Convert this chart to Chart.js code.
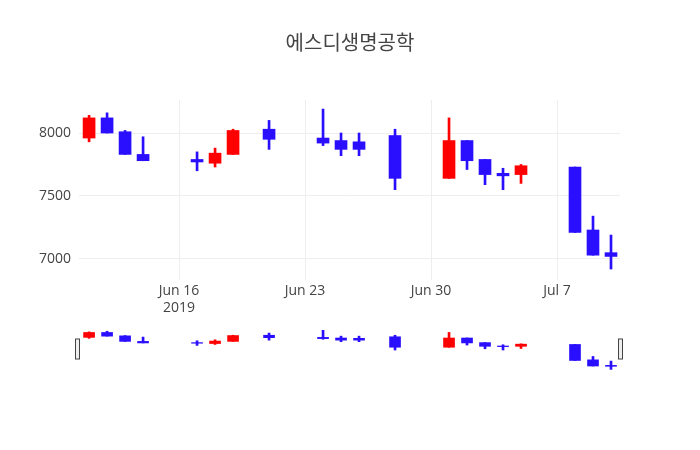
<!DOCTYPE html>
<html><head><meta charset="utf-8">
<script src="https://cdn.jsdelivr.net/npm/chart.js@4/dist/chart.umd.min.js"></script>
<style>body{margin:0;background:#fff}canvas{position:absolute;left:0;top:0}</style>
</head><body>
<canvas id="main" width="700" height="450"></canvas>
<canvas id="slider" width="700" height="450"></canvas>
<script>
// day offsets relative to 2019-06-16
const days  = [-5,-4,-3,-2,1,2,3,5,8,9,10,12,15,16,17,18,19,22,23,24];
const opens = [7960,8120,8010,7830,7790,7760,7830,8030,7960,7940,7930,7980,7640,7940,7790,7680,7670,7730,7230,7050];
const highs = [8140,8160,8020,7970,7850,7880,8030,8100,8190,8000,8000,8030,8120,7940,7790,7720,7750,7730,7340,7190];
const lows  = [7930,8000,7830,7780,7700,7730,7830,7870,7900,7820,7820,7550,7640,7710,7590,7550,7600,7210,7030,6920];
const closes= [8120,8000,7830,7780,7770,7840,8020,7950,7920,7870,7870,7640,7940,7780,7670,7660,7740,7210,7030,7020];
const tickDays = [0,7,14,21];
const tickLabels = [["Jun 16","2019"],"Jun 23","Jun 30","Jul 7"];
const yTicks = [7000,7500,8000];

const UP='#ff0000', DOWN='#2a0fff';
const cols = days.map((d,i)=>closes[i]>=opens[i]?UP:DOWN);
function sets(bw){
  return [
    {data:days.map((d,i)=>({x:d,y:[lows[i],highs[i]]})),backgroundColor:cols,barThickness:2,grouped:false,order:2},
    {data:days.map((d,i)=>({x:d,y:[opens[i],closes[i]===opens[i]?closes[i]+5:closes[i]]})),backgroundColor:cols,barThickness:bw,grouped:false,order:1}
  ];
}
const font={family:'"Open Sans", "Noto Sans", sans-serif',size:14};
const titlePlugin={id:'t',afterDraw(c){const x=c.ctx;x.save();x.font='20px "Noto Sans CJK KR"';x.fillStyle='#444';x.textAlign='center';x.textBaseline='middle';x.fillText('에스디생명공학',350,42);x.restore();}};
new Chart(document.getElementById('main'),{type:'bar',data:{datasets:sets(12)},plugins:[titlePlugin],
 options:{responsive:false,animation:false,layout:{padding:{top:100,right:80,bottom:130,left:0}},
 plugins:{legend:{display:false},tooltip:{enabled:false}},
 scales:{
  x:{type:'linear',offset:false,min:-5.56,max:24.5,afterBuildTicks(s){s.ticks=tickDays.map(v=>({value:v}));},
     afterFit(s){s.height=40;},
     ticks:{autoSkip:false,maxRotation:0,color:'#444',font,callback:(v)=>tickLabels[tickDays.indexOf(v)]},
     grid:{color:'#eee',drawTicks:false,offset:false},border:{display:false}},
  y:{min:6833,max:8262,afterBuildTicks(s){s.ticks=yTicks.map(v=>({value:v}));},afterFit(s){s.width=79;},
     ticks:{color:'#444',font,padding:8,callback:v=>String(v)},grid:{color:'#eee',drawTicks:false},border:{display:false}}
 }}});
const handles={id:'h',afterDraw(c){const x=c.ctx,a=c.chartArea;x.save();x.strokeStyle='#444';x.fillStyle='#eee';x.lineWidth=1;
 [a.left-1,a.right+1].forEach(px=>{x.fillRect(px-2.5,339,4,20);x.strokeRect(px-2.5,339,4,20);});x.restore();}};
new Chart(document.getElementById('slider'),{type:'bar',data:{datasets:sets(11)},plugins:[handles],
 options:{responsive:false,animation:false,layout:{padding:{top:330,right:80,bottom:80,left:79}},
 plugins:{legend:{display:false},tooltip:{enabled:false}},
 scales:{x:{type:'linear',offset:false,min:-5.56,max:24.5,display:false},y:{min:6900,max:8200,display:false}}}});
</script></body></html>
